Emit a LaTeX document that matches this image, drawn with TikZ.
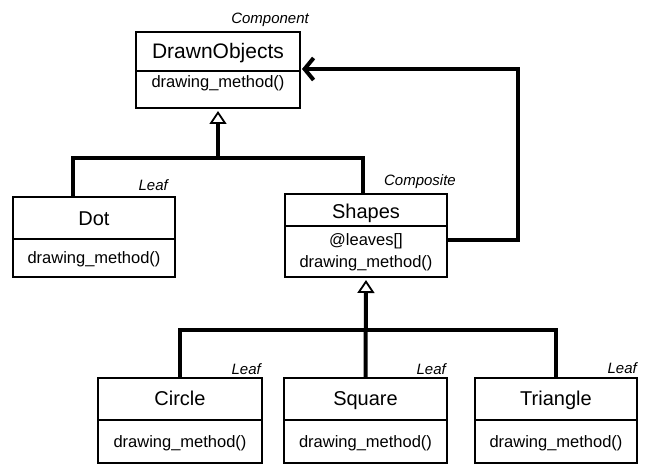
\documentclass[tikz,border=0pt]{standalone}
\usepackage{fontspec}
\setmainfont{Liberation Sans}
\usetikzlibrary{arrows.meta}
\tikzset{
  classbox/.style={draw, line width=2pt, inner sep=0pt, outer sep=0pt},
  classname/.style={font=\fontsize{20}{24}\selectfont, inner sep=0pt, text height=14.5pt, text depth=0pt},
  methodtext/.style={font=\fontsize{16.5}{19}\selectfont, inner sep=0pt, text height=12pt, text depth=0pt},
  rolelabel/.style={font=\fontsize{15}{18}\selectfont\itshape, anchor=east, inner sep=0pt, text height=11pt, text depth=0pt},
  divider/.style={line width=2pt},
  conn/.style={line width=4pt},
  inherit/.style={conn, -{Triangle[open,length=13pt,width=17pt,line width=1.8pt]}},
  aggr/.style={conn, -{Straight Barb[length=9pt,width=22pt]}}
}
\begin{document}
\begin{tikzpicture}[x=1pt,y=-1pt]
\useasboundingbox (0,0) rectangle (646,473);

% class boxes
\node[classbox, minimum width=164pt, minimum height=76pt] (drawn) at (218,70) {};
\node[classbox, minimum width=162pt, minimum height=80pt] (dot) at (94,237) {};
\node[classbox, minimum width=162pt, minimum height=83pt] (shapes) at (366,235.5) {};
\node[classbox, minimum width=164pt, minimum height=85pt] (circle) at (180,420.5) {};
\node[classbox, minimum width=163pt, minimum height=85pt] (square) at (365.5,420.5) {};
\node[classbox, minimum width=162pt, minimum height=85pt] (triangle) at (556,420.5) {};

% dividers
\draw[divider] (drawn.west |- 0,71) -- (drawn.east |- 0,71);
\draw[divider] (dot.west |- 0,239) -- (dot.east |- 0,239);
\draw[divider] (shapes.west |- 0,226) -- (shapes.east |- 0,226);
\draw[divider] (circle.west |- 0,420) -- (circle.east |- 0,420);
\draw[divider] (square.west |- 0,420) -- (square.east |- 0,420);
\draw[divider] (triangle.west |- 0,420) -- (triangle.east |- 0,420);

% titles
\node[classname, font=\fontsize{21}{25}\selectfont, text height=15pt] (tdrawn) at (218,51) {DrawnObjects};
\node[classname] (tdot) at (94,218) {Dot};
\node[classname] (tshapes) at (366,211) {Shapes};
\node[classname] (tcircle) at (180,398) {Circle};
\node[classname] (tsquare) at (365.5,398) {Square};
\node[classname] (ttriangle) at (556,398) {Triangle};

% methods
\node[methodtext] (mdrawn) at (218,82) {drawing\_method()};
\node[methodtext] (mdot) at (94,258) {drawing\_method()};
\node[methodtext] (ashapes) at (366,240) {@leaves[]};
\node[methodtext] (mshapes) at (366,262) {drawing\_method()};
\node[methodtext] (mcircle) at (180,441) {drawing\_method()};
\node[methodtext] (msquare) at (365.5,441) {drawing\_method()};
\node[methodtext] (mtriangle) at (556,441) {drawing\_method()};

% role labels
\node[rolelabel] (lcomp) at (309,18) {Component};
\node[rolelabel] (ldot) at (168,185) {Leaf};
\node[rolelabel] (lcomposite) at (456,180) {Composite};
\node[rolelabel] (lcircle) at (261,369) {Leaf};
\node[rolelabel] (lsquare) at (446,369) {Leaf};
\node[rolelabel] (ltriangle) at (637,368) {Leaf};

% connectors
\coordinate (j1) at (218,158);
\coordinate (j2) at (365.5,330);
\draw[conn] ([xshift=60pt]dot.north west) |- (j1) -| ([xshift=-3pt]shapes.north);
\draw[inherit] (j1) -- ([yshift=-3pt]drawn.south);
\draw[conn] (circle.north) |- (j2) -| (triangle.north);
\draw[inherit] (square.north) -- ([yshift=-3pt]shapes.south);
\draw[aggr] ([yshift=-4.5pt]shapes.east) -- ++(71,0) |- ([yshift=1pt,xshift=2pt]drawn.east);
\end{tikzpicture}
\end{document}
